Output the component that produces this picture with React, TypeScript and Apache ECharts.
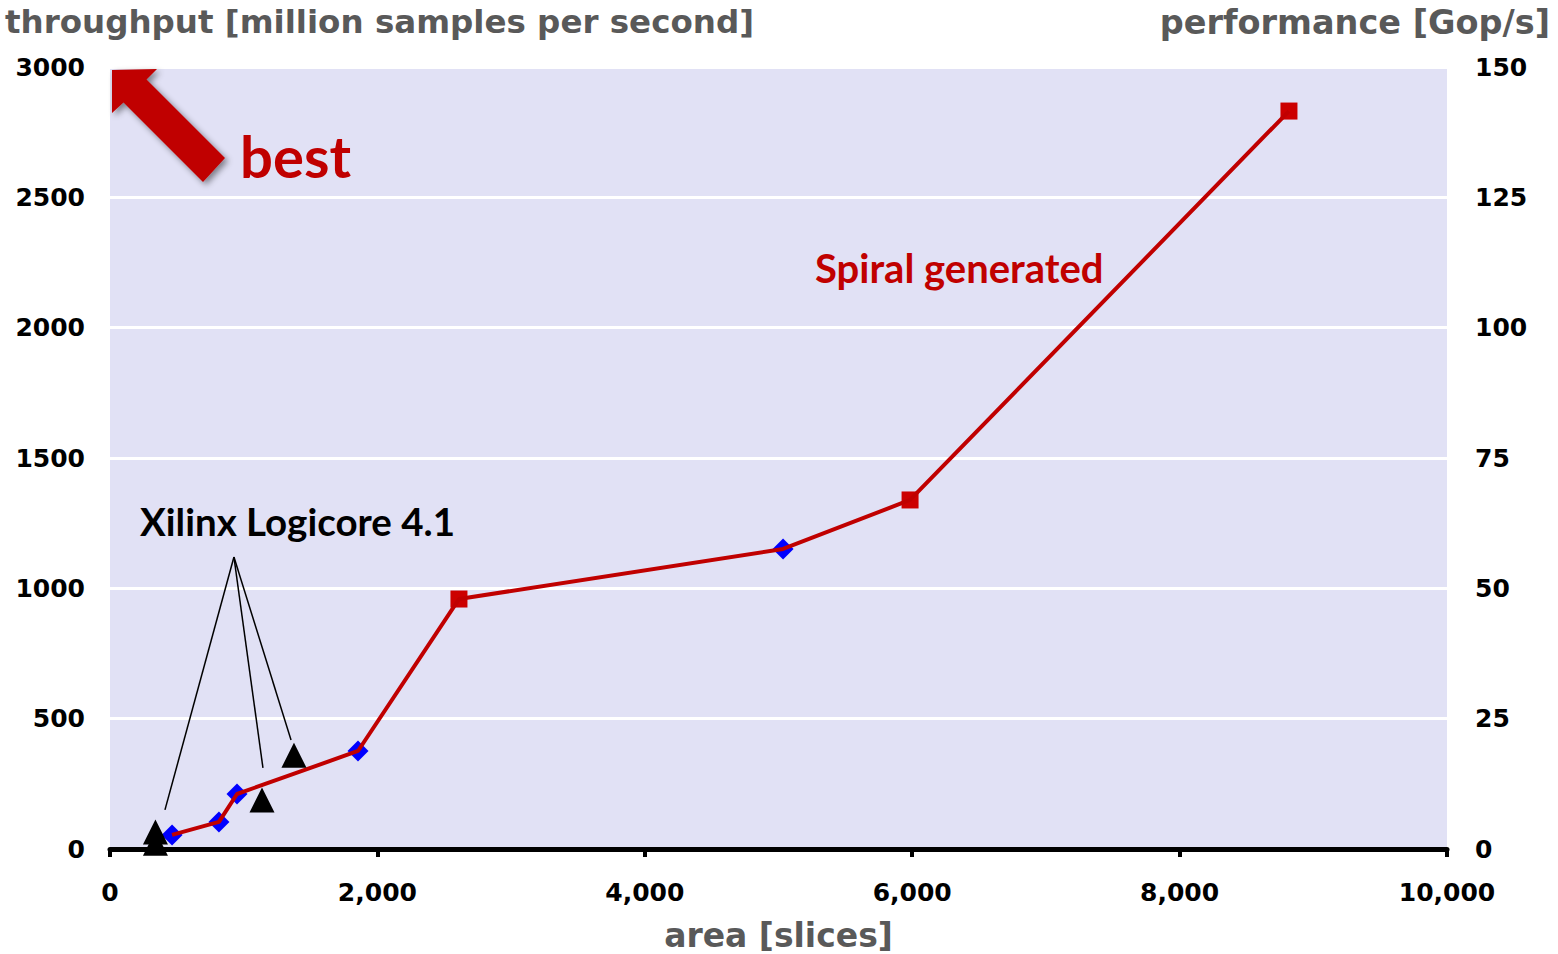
import React, { useEffect, useRef } from "react";
import * as echarts from "echarts";

// Spiral generated designs: area [slices] vs throughput [million samples/s]
const spiralArea = [464, 815, 950, 1855, 2610, 5034, 5984, 8818];
const spiralThroughput = [54, 104, 211, 376, 959, 1151, 1339, 2831];
const spiralMarker = ["diamond", "diamond", "diamond", "diamond", "square", "diamond", "square", "square"];

// Xilinx Logicore 4.1 designs
const xilinxArea = [340, 340, 1137, 1376];
const xilinxThroughput = [65, 22, 188, 360];

// Leader lines for the Xilinx annotation (data coordinates)
const leaderStart = [927, 1120];
const leaderEnds = [
  [411, 150],
  [1144, 311],
  [1354, 418],
];

const xTicks = { min: 0, max: 10000, interval: 2000 };
const yLeftTicks = { min: 0, max: 3000, interval: 500 };
const yRightTicks = { min: 0, max: 150, interval: 25 };

const axisFont = "DejaVu Sans";
const noteFont = "Lato";

export default function App() {
  const ref = useRef<HTMLDivElement>(null);

  useEffect(() => {
    document.body.style.margin = "0";
    if (!ref.current) return;
    const chart = echarts.init(ref.current, null, { renderer: "svg" });

    const markerColor = (m: string) => (m === "diamond" ? "#0000FF" : "#CC0000");
    const markerSize = (m: string) => (m === "diamond" ? 21 : 17);

    chart.setOption({
      animation: false,
      backgroundColor: "#FFFFFF",
      grid: {
        left: 110,
        right: 111,
        top: 67,
        bottom: 105,
        outerBoundsMode: "none",
        containLabel: false,
        show: true,
        backgroundColor: "#E1E1F5",
        borderWidth: 0,
      },
      xAxis: {
        type: "value",
        min: xTicks.min,
        max: xTicks.max,
        interval: xTicks.interval,
        name: "area [slices]",
        nameLocation: "middle",
        nameGap: 70,
        nameTextStyle: { fontFamily: axisFont, fontWeight: "bold", fontSize: 33, color: "#595959" },
        axisLine: { show: true, onZero: false, lineStyle: { color: "#000000", width: 5 } },
        axisTick: { show: true, length: 8, lineStyle: { color: "#000000", width: 4 } },
        splitLine: { show: false },
        axisLabel: {
          margin: 31,
          fontFamily: axisFont,
          fontWeight: "bold",
          fontSize: 25,
          color: "#000000",
          formatter: (v: number) => v.toLocaleString("en-US"),
        },
      },
      yAxis: [
        {
          type: "value",
          min: yLeftTicks.min,
          max: yLeftTicks.max,
          interval: yLeftTicks.interval,
          axisLine: { show: false },
          axisTick: { show: false },
          splitLine: { show: true, lineStyle: { color: "#FFFFFF", width: 3 } },
          axisLabel: {
            margin: 25,
            fontFamily: axisFont,
            fontWeight: "bold",
            fontSize: 25,
            color: "#000000",
            formatter: (v: number) => String(v),
          },
        },
        {
          type: "value",
          position: "right",
          min: yRightTicks.min,
          max: yRightTicks.max,
          interval: yRightTicks.interval,
          axisLine: { show: false },
          axisTick: { show: false },
          splitLine: { show: false },
          axisLabel: {
            margin: 28,
            fontFamily: axisFont,
            fontWeight: "bold",
            fontSize: 25,
            color: "#000000",
            formatter: (v: number) => String(v),
          },
        },
      ],
      series: [
        {
          name: "Spiral markers",
          type: "scatter",
          z: 2,
          data: spiralArea.map((x, i) => ({
            value: [x, spiralThroughput[i]],
            symbol: spiralMarker[i],
            symbolSize: markerSize(spiralMarker[i]),
            itemStyle: { color: markerColor(spiralMarker[i]), opacity: 1 },
          })),
        },
        {
          name: "Spiral generated",
          type: "line",
          z: 3,
          showSymbol: false,
          symbol: "none",
          lineStyle: { color: "#C00000", width: 4 },
          data: spiralArea.map((x, i) => [x, spiralThroughput[i]]),
        },
        {
          name: "Xilinx Logicore 4.1",
          type: "scatter",
          z: 4,
          symbol: "triangle",
          symbolSize: 25,
          itemStyle: { color: "#000000", opacity: 1 },
          data: xilinxArea.map((x, i) => [x, xilinxThroughput[i]]),
          markLine: {
            silent: true,
            symbol: ["none", "none"],
            label: { show: false },
            lineStyle: { color: "#000000", width: 1.5, type: "solid" },
            data: leaderEnds.map((e) => [{ coord: leaderStart }, { coord: e }]),
          },
        },
      ],
      graphic: [
        {
          type: "text",
          left: 5,
          top: 5,
          style: {
            text: "throughput [million samples per second]",
            fontFamily: axisFont,
            fontWeight: "bold",
            fontSize: 32.5,
            fill: "#595959",
          },
        },
        {
          type: "text",
          right: 8,
          top: 5,
          style: {
            text: "performance [Gop/s]",
            fontFamily: axisFont,
            fontWeight: "bold",
            fontSize: 33.5,
            fill: "#595959",
          },
        },
        {
          type: "polygon",
          z: 10,
          shape: {
            points: [
              [112, 70],
              [157, 69],
              [146.5, 79.5],
              [225, 158],
              [203, 182],
              [123.5, 102.5],
              [112, 113],
            ],
          },
          style: {
            fill: "#C00000",
            shadowBlur: 6,
            shadowColor: "rgba(0,0,0,0.45)",
            shadowOffsetX: 3,
            shadowOffsetY: 3,
          },
        },
        {
          type: "text",
          z: 10,
          x: 240,
          y: 155,
          style: {
            text: "best",
            fontFamily: noteFont,
            fontWeight: "bold",
            fontSize: 58,
            fill: "#C00000",
            textVerticalAlign: "middle",
          },
        },
        {
          type: "text",
          z: 10,
          x: 815,
          y: 268,
          style: {
            text: "Spiral generated",
            fontFamily: noteFont,
            fontWeight: "bold",
            fontSize: 40,
            fill: "#C00000",
            textVerticalAlign: "middle",
          },
        },
        {
          type: "text",
          z: 10,
          x: 140,
          y: 521,
          style: {
            text: "Xilinx Logicore 4.1",
            fontFamily: noteFont,
            fontWeight: "bold",
            fontSize: 38.5,
            fill: "#000000",
            textVerticalAlign: "middle",
          },
        },
      ],
    });

    return () => chart.dispose();
  }, []);

  return <div ref={ref} style={{ width: 1558, height: 954 }} />;
}
